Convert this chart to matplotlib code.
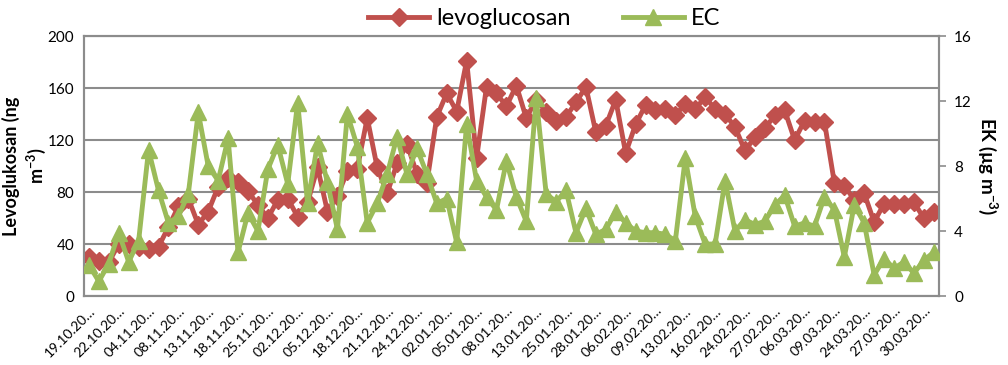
import matplotlib
matplotlib.use('Agg')
import matplotlib.pyplot as plt
import numpy as np

plt.rcParams['font.family'] = ['Lato', 'DejaVu Sans']
plt.rcParams['mathtext.default'] = 'regular'

# tick labels (every third sample is labelled)
tick_labels = ['19.10.20…', '22.10.20…', '04.11.20…', '08.11.20…', '13.11.20…',
               '18.11.20…', '25.11.20…', '02.12.20…', '05.12.20…', '18.12.20…',
               '21.12.20…', '24.12.20…', '02.01.20…', '05.01.20…', '08.01.20…',
               '13.01.20…', '25.01.20…', '28.01.20…', '06.02.20…', '09.02.20…',
               '13.02.20…', '16.02.20…', '24.02.20…', '27.02.20…', '06.03.20…',
               '09.03.20…', '24.03.20…', '27.03.20…', '30.03.20…']

# levoglucosan, ng m-3 (left axis)
levoglucosan = [30, 27, 26, 40, 40, 38, 36, 38, 53, 69,
                75, 55, 65, 84, 91, 88, 81, 70, 60, 74,
                75, 61, 72, 99, 65, 77, 96, 98, 137, 99,
                79, 102, 117, 94, 87, 138, 156, 142, 181, 106,
                161, 156, 146, 162, 137, 151, 142, 135, 138, 149,
                161, 126, 131, 151, 110, 132, 147, 143, 144, 139,
                148, 144, 153, 144, 140, 130, 112, 122, 129, 139,
                143, 120, 135, 134, 134, 87, 85, 74, 79, 57,
                71, 71, 71, 72, 60, 65]

# EC, ug m-3 (right axis)
ec = [1.9, 0.9, 2.0, 3.9, 2.1, 3.4, 9.0, 6.5, 4.5, 4.9,
      6.3, 11.3, 8.0, 7.1, 9.7, 2.7, 5.1, 4.0, 7.8, 9.3,
      6.9, 11.9, 5.7, 9.4, 7.0, 4.1, 11.2, 9.2, 4.5, 5.7,
      7.5, 9.8, 7.5, 9.1, 7.5, 5.7, 6.0, 3.3, 10.6, 7.1,
      6.1, 5.3, 8.3, 6.1, 4.6, 12.2, 6.3, 5.8, 6.5, 3.9,
      5.4, 3.8, 4.1, 5.2, 4.5, 4.0, 3.9, 3.9, 3.8, 3.4,
      8.5, 4.9, 3.2, 3.2, 7.1, 4.0, 4.7, 4.4, 4.6, 5.6,
      6.2, 4.3, 4.5, 4.3, 6.1, 5.3, 2.4, 5.6, 4.5, 1.3,
      2.3, 1.7, 2.1, 1.4, 2.2, 2.7]

red = '#C0504D'
green = '#9BBB59'
grid_col = '#8c8c8c'

x = np.arange(len(levoglucosan))

fig = plt.figure(figsize=(10.08, 3.65), dpi=100)
ax = fig.add_axes([0.0833, 0.189, 0.848, 0.712])
ax2 = ax.twinx()

ax.set_ylim(0, 200)
ax.set_yticks(np.arange(0, 201, 40))
ax.set_xlim(-0.5, len(x) - 0.5)
ax2.set_ylim(0, 16)
ax2.set_yticks(np.arange(0, 17, 4))

ax.yaxis.grid(True, color=grid_col, linewidth=1.5)
ax.set_axisbelow(True)

l1, = ax.plot(x, levoglucosan, color=red, linewidth=3.5, marker='D',
              markersize=9, zorder=3, label='levoglucosan')
l2, = ax2.plot(x, ec, color=green, linewidth=3.5, marker='^',
               markersize=11, zorder=4, label='EC')

for a in (ax, ax2):
    for s in a.spines.values():
        s.set_color(grid_col)
        s.set_linewidth(1.5)

ax.set_xticks(x[::3])
ax.set_xticklabels(tick_labels, rotation=45, ha='right', va='top',
                   rotation_mode='anchor', fontsize=10)
ax.tick_params(axis='x', length=0, pad=6)
ax.tick_params(axis='y', length=0, labelsize=11, pad=7)
ax2.tick_params(axis='y', length=5, color=grid_col, width=1.2, labelsize=11, pad=6)

ax.set_ylabel('Levoglukosan (ng\nm$^{-3}$)', fontsize=13, fontweight='bold',
              linespacing=1.25)
ax.yaxis.set_label_coords(-0.042, 0.5)
ax2.set_ylabel('EK (µg m$^{-3}$)', fontsize=13.5, fontweight='bold',
               rotation=270, labelpad=20)

fig.legend(handles=[l1, l2], loc='upper center', bbox_to_anchor=(0.54, 1.035),
           ncol=2, frameon=False, fontsize=17, handlelength=2.6,
           columnspacing=2.2, handletextpad=0.3)

fig.savefig('out.png', dpi=100)
